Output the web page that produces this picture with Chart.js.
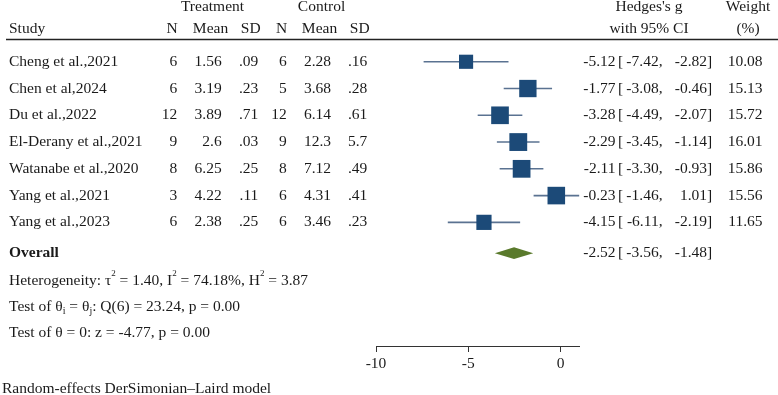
<!DOCTYPE html>
<html>
<head>
<meta charset="utf-8">
<script src="https://cdn.jsdelivr.net/npm/chart.js@4.4.1/dist/chart.umd.min.js"></script>
<style>
  html, body { margin: 0; padding: 0; background: #fff; }
  canvas { display: block; }
</style>
</head>
<body>
<canvas id="forestChart" width="778" height="395"></canvas>
<script>
const studies = [
    'Cheng et al.,2021',
    'Chen et al,2024',
    'Du et al.,2022',
    'El-Derany et al.,2021',
    'Watanabe et al.,2020',
    'Yang et al.,2021',
    'Yang et al.,2023',
];
const treatN = [6, 6, 12, 9, 8, 3, 6];
const treatMean = [1.56, 3.19, 3.89, 2.6, 6.25, 4.22, 2.38];
const treatSD = [0.09, 0.23, 0.71, 0.03, 0.25, 0.11, 0.25];
const ctrlN = [6, 5, 12, 9, 8, 6, 6];
const ctrlMean = [2.28, 3.68, 6.14, 12.3, 7.12, 4.31, 3.46];
const ctrlSD = [0.16, 0.28, 0.61, 5.7, 0.49, 0.41, 0.23];

const hedgesG = [-5.12, -1.77, -3.28, -2.29, -2.11, -0.23, -4.15];
const ciLow = [-7.42, -3.08, -4.49, -3.45, -3.30, -1.46, -6.11];
const ciHigh = [-2.82, -0.46, -2.07, -1.14, -0.93, 1.01, -2.19];
const weights = [10.08, 15.13, 15.72, 16.01, 15.86, 15.56, 11.65];

const overallG = -2.52;
const overallLow = -3.56;
const overallHigh = -1.48;

const xTicks = [-10, -5, 0];

// row positions on the hidden y scale
const OVERALL_ROW = 7.15;
const DIAMOND_HALF = 0.22;

const FONT = '"Liberation Serif", "Times New Roman", serif';
const FS = 15.5;
const INK = '#1a1a1a';

// short SD values are printed Stata-style (.09)
function fmt(v) {
    return String(v).replace(/^0\./, '.');
}

const ciDatasets = studies.map((s, i) => ({
    type: 'line',
    data: [{x: ciLow[i], y: i}, {x: ciHigh[i], y: i}],
    borderColor: '#5a7291',
    borderWidth: 1.6,
    pointRadius: 0,
    order: 2,
}));

const data = {
    datasets: [{
        type: 'scatter',
        data: hedgesG.map((g, i) => ({x: g, y: i})),
        pointStyle: 'rect',
        pointRadius: (ctx) => 3.15 * Math.sqrt(weights[ctx.dataIndex] || 0),
        backgroundColor: '#1c4a78',
        borderWidth: 0,
        order: 0,
    }, {
        type: 'line',
        data: [
            {x: overallLow, y: OVERALL_ROW},
            {x: overallG, y: OVERALL_ROW - DIAMOND_HALF},
            {x: overallHigh, y: OVERALL_ROW},
            {x: overallG, y: OVERALL_ROW + DIAMOND_HALF},
            {x: overallLow, y: OVERALL_ROW},
        ],
        borderWidth: 0,
        borderColor: '#5a7a2c',
        backgroundColor: '#5a7a2c',
        fill: 'shape',
        pointRadius: 0,
        tension: 0,
        order: 1,
    }, ...ciDatasets]
};

function drawRich(ctx, x, y, parts) {
    parts.forEach(([txt, mode]) => {
        let dy = 0;
        if (mode === 'sup') {
            ctx.font = '9px ' + FONT;
            dy = -7;
        } else if (mode === 'sub') {
            ctx.font = '10px ' + FONT;
            dy = 4;
        } else {
            ctx.font = FS + 'px ' + FONT;
        }
        ctx.fillText(txt, x, y + dy);
        x += ctx.measureText(txt).width;
    });
}

function drawEffect(ctx, g, lo, hi, y) {
    ctx.textAlign = 'right';
    ctx.fillText(g.toFixed(2), 615.5, y);
    ctx.fillText(lo.toFixed(2) + ',', 662.5, y);
    ctx.fillText(hi.toFixed(2), 707, y);
    ctx.textAlign = 'left';
    ctx.fillText('[', 618, y);
    ctx.fillText(']', 707, y);
}

const tablePlugin = {
    id: 'tableText',
    afterDraw(chart) {
        const ctx = chart.ctx;
        const yS = chart.scales.y;
        ctx.save();
        ctx.fillStyle = INK;
        ctx.textBaseline = 'middle';
        ctx.font = FS + 'px ' + FONT;

        // header
        ctx.textAlign = 'center';
        ctx.fillText('Treatment', 212.5, 6.5);
        ctx.fillText('Control', 321.5, 6.5);
        ctx.fillText('Hedges\'s g', 649, 6.5);
        ctx.fillText('Weight', 748, 6.5);
        ctx.fillText('N', 172, 28.5);
        ctx.fillText('Mean', 210.5, 28.5);
        ctx.fillText('SD', 250.7, 28.5);
        ctx.fillText('N', 281.7, 28.5);
        ctx.fillText('Mean', 319.5, 28.5);
        ctx.fillText('SD', 359.7, 28.5);
        ctx.fillText('with 95% CI', 649, 28.5);
        ctx.fillText('(%)', 748, 28.5);
        ctx.textAlign = 'left';
        ctx.fillText('Study', 9, 28.5);

        ctx.strokeStyle = '#222';
        ctx.lineWidth = 1.3;
        ctx.beginPath();
        ctx.moveTo(6, 39.5);
        ctx.lineTo(778, 39.5);
        ctx.stroke();

        // study rows
        studies.forEach((s, i) => {
            const y = yS.getPixelForValue(i);
            ctx.textAlign = 'left';
            ctx.fillText(s, 9, y);
            ctx.textAlign = 'right';
            ctx.fillText(fmt(treatN[i]), 177.3, y);
            ctx.fillText(fmt(treatMean[i]), 221.7, y);
            ctx.fillText(fmt(treatSD[i]), 258.3, y);
            ctx.fillText(fmt(ctrlN[i]), 286.7, y);
            ctx.fillText(fmt(ctrlMean[i]), 331, y);
            ctx.fillText(fmt(ctrlSD[i]), 367.3, y);
            drawEffect(ctx, hedgesG[i], ciLow[i], ciHigh[i], y);
            ctx.textAlign = 'right';
            ctx.fillText(weights[i].toFixed(2), 762.5, y);
        });

        // overall row
        const yo = yS.getPixelForValue(OVERALL_ROW);
        ctx.textAlign = 'left';
        ctx.font = 'bold ' + FS + 'px ' + FONT;
        ctx.fillText('Overall', 9, yo);
        ctx.font = FS + 'px ' + FONT;
        drawEffect(ctx, overallG, overallLow, overallHigh, yo);

        ctx.textAlign = 'left';
        drawRich(ctx, 9, yS.getPixelForValue(8.18), [
            ['Heterogeneity: \u03c4'], ['2', 'sup'], [' = 1.40, I'], ['2', 'sup'],
            [' = 74.18%, H'], ['2', 'sup'], [' = 3.87'],
        ]);
        drawRich(ctx, 9, yS.getPixelForValue(9.16), [
            ['Test of \u03b8'], ['i', 'sub'], [' = \u03b8'], ['j', 'sub'],
            [': Q(6) = 23.24, p = 0.00'],
        ]);
        drawRich(ctx, 9, yS.getPixelForValue(10.13), [
            ['Test of \u03b8 = 0: z = -4.77, p = 0.00'],
        ]);

        ctx.font = FS + 'px ' + FONT;
        ctx.fillText('Random-effects DerSimonian\u2013Laird model', 2, 389);
        ctx.restore();
    }
};

const config = {
    type: 'scatter',
    data: data,
    plugins: [tablePlugin],
    options: {
        responsive: false,
        animation: false,
        devicePixelRatio: 1,
        clip: false,
        layout: {
            padding: { left: 376, right: 199, top: 35, bottom: 0 },
        },
        plugins: {
            legend: { display: false },
            tooltip: { enabled: false },
        },
        scales: {
            x: {
                type: 'linear',
                position: 'bottom',
                min: -10,
                max: 1,
                afterBuildTicks: (scale) => {
                    scale.ticks = xTicks.map(v => ({ value: v }));
                },
                afterFit: (scale) => {
                    scale.height = 49;
                },
                ticks: {
                    color: INK,
                    padding: 3,
                    maxRotation: 0,
                    font: { family: FONT, size: FS },
                },
                grid: {
                    drawOnChartArea: false,
                    drawTicks: true,
                    tickLength: 6,
                    color: '#333',
                },
                border: { color: '#333', width: 1 },
            },
            y: {
                type: 'linear',
                display: false,
                reverse: true,
                min: -1,
                max: 10.62,
            },
        },
    }
};

const forestChart = new Chart(
    document.getElementById('forestChart'),
    config
);
</script>
</body>
</html>
